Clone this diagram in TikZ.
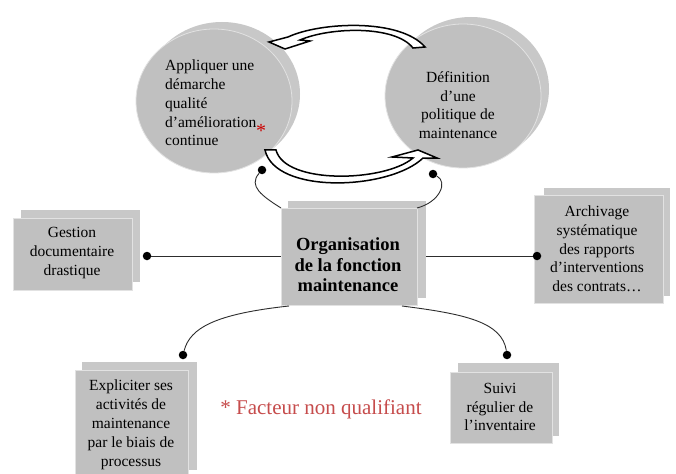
\documentclass[tikz,border=0pt]{standalone}
\usepackage{fontspec}
\setmainfont{Liberation Serif}
\usetikzlibrary{shapes.geometric}
\definecolor{boxgray}{RGB}{192,192,192}
\definecolor{backgray}{RGB}{200,200,200}
\definecolor{rimgray}{RGB}{226,226,226}
\definecolor{footred}{RGB}{198,76,76}
\definecolor{linegray}{RGB}{45,45,45}
\begin{document}
\begin{tikzpicture}[x=1pt,y=-1pt,
  backshape/.style={fill=backgray, draw=none, inner sep=0pt, outer sep=0pt},
  frontshape/.style={fill=boxgray, draw=rimgray, line width=0.8pt, inner sep=0pt, outer sep=0pt},
  oval/.style={ellipse, minimum width=156pt, minimum height=144pt},
  txt/.style={inner sep=0pt, align=center, font=\fontsize{15.5}{18.7}\selectfont},
  conn/.style={draw=linegray, line width=0.9pt},
  dotmark/.style={circle, fill=black, inner sep=0pt, minimum size=8.5pt},
  blockarrow/.style={fill=white, draw=black, line width=1.5pt, line join=miter}]
\clip (0,0) rectangle (676,473);
\fill[white] (0,0) rectangle (676,473);

% circles
\node[backshape, oval] (lcback) at (222,94) {};
\node[frontshape, oval] (lc) at (214,101) {};
\node[backshape, oval] (rcback) at (471,89) {};
\node[frontshape, oval] (rc) at (463,96) {};

% curved block arrows
\path[blockarrow] (269,42) -- (285,49) -- (310,41) -- (300,40)
  .. controls (330,27) and (395,25) .. (413,48) -- (425,47)
  .. controls (400,18) and (320,22) .. (288,37) -- cycle;
\path[blockarrow] (265,150) .. controls (275,195) and (390,190) .. (423,158)
  -- (437,158) -- (418,150) -- (392,157) -- (413,158)
  .. controls (385,182) and (285,185) .. (276,150) -- cycle;

% circle texts
\node[txt, align=left, anchor=west] (lctext) at (165,103)
  {Appliquer une\\démarche\\qualité\\d’amélioration\\continue};
\node[inner sep=0pt, text=red!80!black, font=\fontsize{20}{20}\selectfont] (star) at (261,131) {*};
\node[txt] (rctext) at (458,105) {Définition\\d’une\\politique de\\maintenance};

% boxes
\node[backshape, minimum width=138pt, minimum height=97pt] (cboxback) at (357,249.5) {};
\node[frontshape, minimum width=136pt, minimum height=97pt] (cbox) at (349,256.5) {};
\node[backshape, minimum width=119pt, minimum height=72pt] (lboxback) at (80.5,246) {};
\node[frontshape, minimum width=119pt, minimum height=72pt] (lbox) at (72.5,254) {};
\node[backshape, minimum width=126pt, minimum height=108pt] (rboxback) at (606.5,242) {};
\node[frontshape, minimum width=129pt, minimum height=108pt] (rbox) at (598.5,249) {};
\node[backshape, minimum width=115pt, minimum height=108pt] (blboxback) at (139.5,416) {};
\node[frontshape, minimum width=113pt, minimum height=108pt] (blbox) at (131.5,424) {};
\node[backshape, minimum width=101pt, minimum height=73pt] (brboxback) at (508.5,399.5) {};
\node[frontshape, minimum width=102pt, minimum height=71pt] (brbox) at (501,407.5) {};

% dots
\node[dotmark] (dotTL) at (262,170) {};
\node[dotmark] (dotTR) at (433,174) {};
\node[dotmark] (dotL) at (147,256) {};
\node[dotmark] (dotR) at (537,256) {};
\node[dotmark] (dotBL) at (183,355) {};
\node[dotmark] (dotBR) at (507,355) {};
\coordinate (bl0) at (289,306);
\coordinate (br0) at (402,306);

% connectors
\draw[conn] (dotTL) .. controls (248,186) and (262,196) .. (cbox.north west);
\draw[conn] (dotTR) .. controls (448,182) and (440,202) .. (cbox.north east);
\draw[conn] (dotL) -- (cbox.west |- dotL);
\draw[conn] (cboxback.east |- dotR) -- (dotR);
\draw[conn] (bl0) .. controls (215,314) and (190,328) .. (dotBL);
\draw[conn] (br0) .. controls (465,314) and (502,322) .. (dotBR);

% box texts
\node[txt, font=\bfseries\fontsize{18.5}{20.5}\selectfont] (ctext) at (348,265) {Organisation\\de la fonction\\maintenance};
\node[txt] (ltext) at (72,253) {Gestion\\documentaire\\drastique};
\node[txt] (rtext) at (597,249) {Archivage\\systématique\\des rapports\\d’interventions\\des contrats…};
\node[txt, font=\fontsize{15.5}{19}\selectfont] (bltext) at (131,425) {Expliciter ses\\activités de\\maintenance\\par le biais de\\processus};
\node[txt] (brtext) at (500,407) {Suivi\\régulier de\\l’inventaire};

% footnote
\node[inner sep=0pt, text=footred, font=\fontsize{21}{24}\selectfont] (foot) at (321,409) {* Facteur non qualifiant};
\end{tikzpicture}
\end{document}
